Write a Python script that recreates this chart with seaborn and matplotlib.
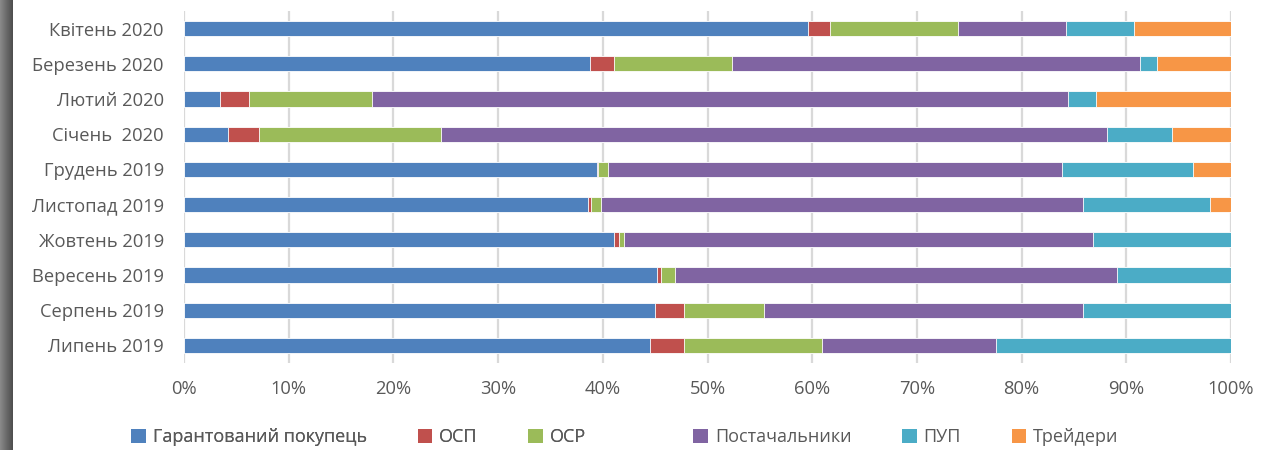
import numpy as np
import pandas as pd
import matplotlib
matplotlib.use("Agg")
import matplotlib.pyplot as plt
import matplotlib.colors as mcolors
from matplotlib.patches import Patch
import seaborn as sns

categories = ["Квітень 2020", "Березень 2020", "Лютий 2020", "Січень  2020", "Грудень 2019",
              "Листопад 2019", "Жовтень 2019", "Вересень 2019", "Серпень 2019", "Липень 2019"]
series = ["Гарантований покупець", "ОСП", "ОСР", "Постачальники", "ПУП", "Трейдери"]

guaranteed_buyer = [59.6, 38.8, 3.4, 4.2, 39.4, 38.6, 41.1, 45.2, 45.0, 44.5]
osp = [2.1, 2.3, 2.8, 3.0, 0.1, 0.3, 0.4, 0.4, 2.8, 3.3]
osr = [12.2, 11.2, 11.8, 17.3, 1.0, 0.9, 0.5, 1.3, 7.6, 13.1]
suppliers = [10.3, 39.0, 66.4, 63.7, 43.4, 46.1, 44.8, 42.2, 30.5, 16.7]
pup = [6.5, 1.6, 2.7, 6.2, 12.5, 12.1, 13.2, 10.9, 14.1, 22.4]
traders = [9.3, 7.1, 12.9, 5.6, 3.6, 2.0, 0.0, 0.0, 0.0, 0.0]

colors = ["#4F81BD", "#C0504D", "#9BBB59", "#8064A2", "#4BACC6", "#F79646"]

values = [guaranteed_buyer, osp, osr, suppliers, pup, traders]
df = pd.DataFrame({name: vals for name, vals in zip(series, values)}, index=categories)
cum = df.cumsum(axis=1)

sns.set_theme(style="white")
plt.rcParams["font.family"] = ["Open Sans", "DejaVu Sans"]

fig = plt.figure(figsize=(12.66, 4.5), dpi=100)
ax = fig.add_axes([184 / 1266, 1 - 363 / 450, (1231 - 184) / 1266, 352 / 450])

for i in range(len(series) - 1, -1, -1):
    d = pd.DataFrame({"cat": categories, "val": cum[series[i]].values})
    sns.barplot(data=d, y="cat", x="val", orient="h", color=colors[i], width=0.43,
                saturation=1, edgecolor="white", linewidth=0.6, ax=ax, zorder=3)

ax.set_xlim(0, 100)
ax.set_ylim(9.5, -0.5)
ax.set_xticks(np.arange(0, 101, 10))
ax.set_xticklabels([f"{v}%" for v in range(0, 101, 10)])
ax.xaxis.grid(True, color="#D9D9D9", linewidth=1.6, zorder=0)
ax.yaxis.grid(False)
ax.set_axisbelow(True)
for s in ax.spines.values():
    s.set_visible(False)
ax.set_xlabel("")
ax.set_ylabel("")
ax.tick_params(axis="both", length=0, labelsize=13.2, labelcolor="#595959")
ax.tick_params(axis="x", pad=12)
ax.tick_params(axis="y", pad=14.5)

handles = [Patch(facecolor=c, edgecolor="none") for c in colors]
common = dict(loc="center left", ncol=3, frameon=False, fontsize=13, handlelength=0.8,
              handleheight=0.8, handletextpad=0.4, columnspacing=2.8, labelcolor="#595959",
              borderaxespad=0.2, borderpad=0.2)
leg1 = fig.legend(handles[:3], series[:3], bbox_to_anchor=(124 / 1266, 1 - 437 / 450), **common)
leg2 = fig.legend(handles[3:], series[3:], bbox_to_anchor=(686 / 1266, 1 - 437 / 450), **common)
fig.add_artist(leg1)

# dark strip on the left edge
sax = fig.add_axes([0, 0, 12 / 1266, 1])
grad = np.linspace(0, 1, 50).reshape(1, -1)
cmap = mcolors.LinearSegmentedColormap.from_list("g", ["#8a8a8a", "#6a6a6a", "#4e4e4e"])
sax.imshow(grad, aspect="auto", cmap=cmap, extent=[0, 1, 0, 1])
sax.axis("off")

fig.savefig("out.png", dpi=100)
